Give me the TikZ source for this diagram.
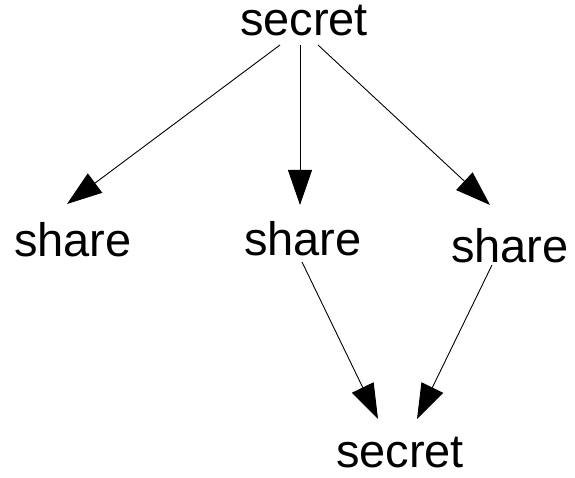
\documentclass[tikz,border=0pt]{standalone}
\usepackage{fontspec}
\setmainfont{Liberation Sans}
\usetikzlibrary{arrows.meta}
\begin{document}
\begin{tikzpicture}[x=1pt,y=-1pt,
  lbl/.style={anchor=base,inner sep=0pt,text depth=0pt,font=\fontsize{47}{47}\selectfont},
  edge/.style={line width=0.9pt,-{Triangle[length=35pt,width=24pt]}}]
\useasboundingbox (0,0) rectangle (575,478);
% labels, placed by their baselines
\node[lbl] (top) at (304,36) {secret};
\node[lbl] (s1) at (73,256) {share};
\node[lbl] (s2) at (303,255) {share};
\node[lbl] (s3) at (510,262) {share};
\node[lbl] (bot) at (400,467) {secret};
% splitting the secret
\draw[edge] ([shift={(-24,9)}]top.base) -- ([shift={(-6,-52)}]s1.base);
\draw[edge] ([shift={(-4,9)}]top.base) -- ([shift={(-3,-50)}]s2.base);
\draw[edge] ([shift={(14,9)}]top.base) -- ([shift={(-20,-57)}]s3.base);
% recombining two shares
\draw[edge] ([shift={(-1,7)}]s2.base) -- ([shift={(-22,-48)}]bot.base);
\draw[edge] ([shift={(-18,3)}]s3.base) -- ([shift={(17,-48)}]bot.base);
\end{tikzpicture}
\end{document}
